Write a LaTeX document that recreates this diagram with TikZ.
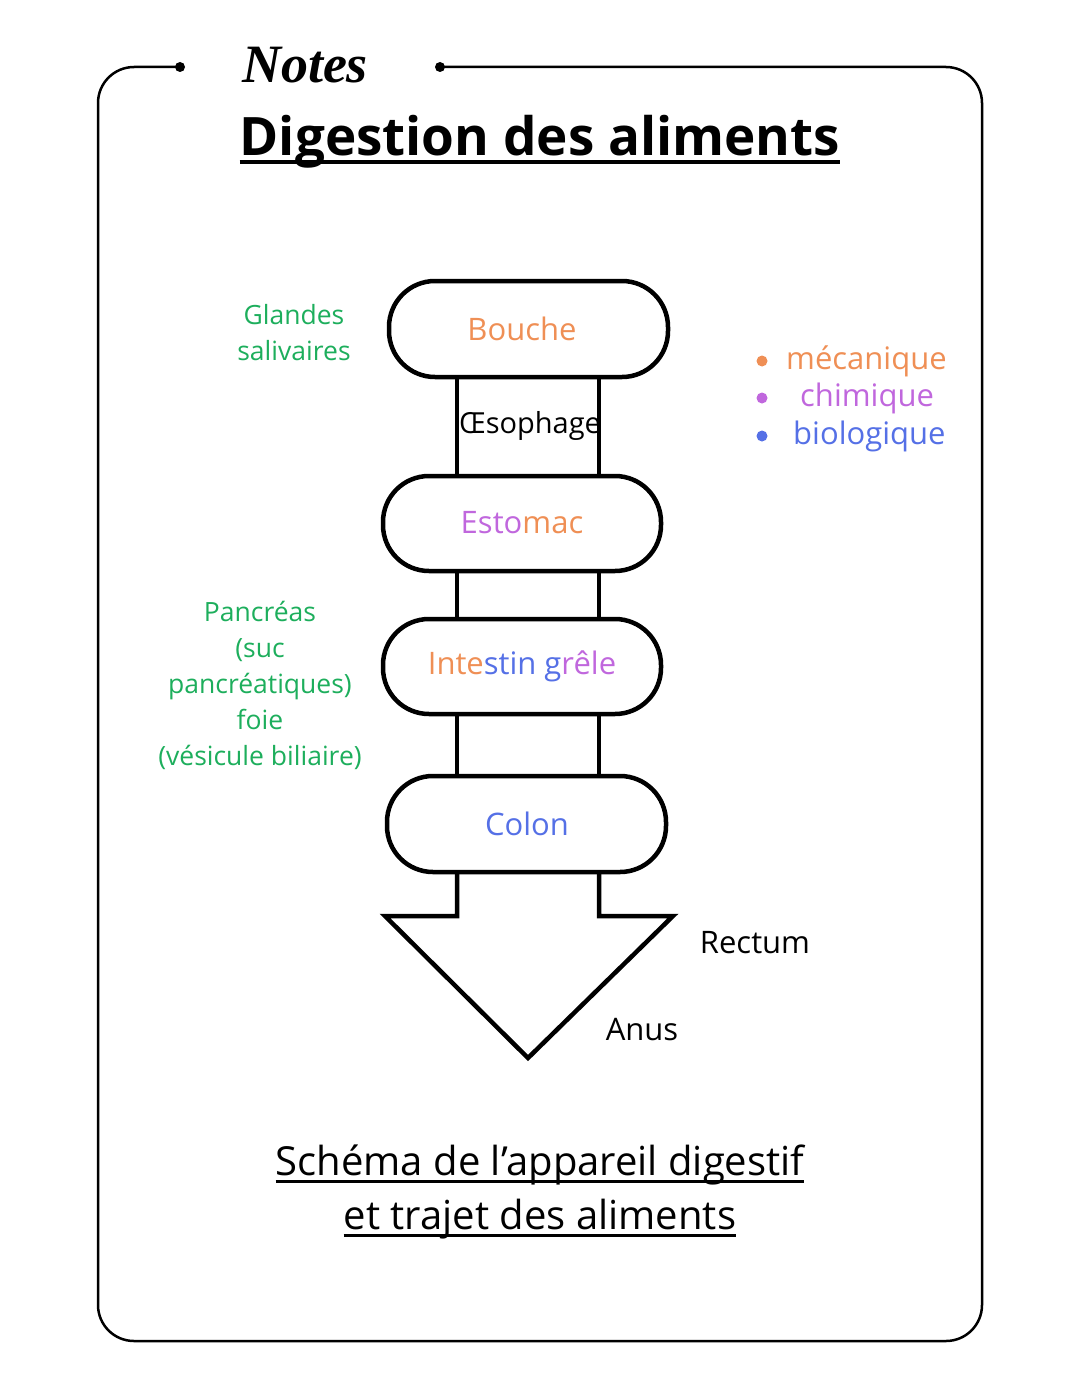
\documentclass[tikz,border=0pt]{standalone}
\usepackage{fontspec}
\setmainfont{Open Sans}
\newfontfamily\notesfont{Liberation Serif}
\definecolor{corange}{HTML}{EF8F55}
\definecolor{cpurple}{HTML}{C067DD}
\definecolor{cblue}{HTML}{5570E6}
\definecolor{cgreen}{HTML}{1DAE5C}
\newcommand{\myul}[2][2.5pt]{\tikz[baseline=(t.base)]{\node[inner sep=0](t){#2};\draw[line width=#1]([yshift=-6pt]t.base west)--([yshift=-6pt]t.base east);}}
\tikzset{
  pill/.style={draw,line width=4.5pt,rounded corners=46pt,inner sep=0},
  wall/.style={line width=4.5pt},
  lbl/.style={font=\fontsize{31}{40}\selectfont,align=center},
  glbl/.style={lbl,text=cgreen,font=\fontsize{26.5}{36}\selectfont},
}
\begin{document}
\begin{tikzpicture}[x=1pt,y=-1pt]
\useasboundingbox (0,0) rectangle (1080,1397);
% frame
\draw[line width=2.5pt,rounded corners=36pt] (180,67) -- (98,67) -- (98,1341) -- (982,1341) -- (982,67) -- (440,67);
\fill (180,67) circle (5pt) (440,67) circle (5pt);
\node (notes) at (305,65) {\notesfont\bfseries\itshape\fontsize{54}{54}\selectfont Notes};
\node (title) at (540,142) {\bfseries\fontsize{53}{56}\selectfont\myul[3.5pt]{Digestion des aliments}};
% pills
\draw[pill] (389,281) rectangle (668,377);
\draw[pill] (383,476) rectangle (661,571);
\draw[pill] (383,619) rectangle (661,714);
\draw[pill] (387,776) rectangle (666,872);
\node[lbl,text=corange] (bouche) at (522,329) {Bouche};
\node[lbl] (estomac) at (522,523) {\textcolor{cpurple}{Esto}\textcolor{corange}{mac}};
\node[lbl] (intestin) at (522,666) {\textcolor{corange}{Inte}\textcolor{cblue}{stin g}\textcolor{cpurple}{rêle}};
\node[lbl,text=cblue] (colon) at (527,824) {Colon};
% tube walls
\draw[wall] (457,377) -- (457,476) (599,377) -- (599,476);
\draw[wall] (457,571) -- (457,619) (599,571) -- (599,619);
\draw[wall] (457,714) -- (457,776) (599,714) -- (599,776);
\draw[wall,line join=miter] (457,872) -- (457,916) -- (385,916) -- (528,1058) -- (673,916) -- (599,916) -- (599,872);
\node[lbl,font=\fontsize{29}{40}\selectfont] (oeso) at (530,426) {Œsophage};
% left labels
\node[glbl] (glandes) at (294,333) {Glandes\\salivaires};
\node[glbl] (pancreas) at (260,685) {Pancréas\\(suc\\pancréatiques)\\foie\\(vésicule biliaire)};
% right list
\fill[corange] (762,361) circle (5.5pt);
\fill[cpurple] (762,398) circle (5.5pt);
\fill[cblue] (762,436) circle (5.5pt);
\node[lbl,anchor=west,text=corange,inner sep=0] (meca) at (786,361) {mécanique};
\node[lbl,anchor=west,text=cpurple,inner sep=0] (chim) at (800,398) {chimique};
\node[lbl,anchor=west,text=cblue,inner sep=0] (bio) at (793,436) {biologique};
\node[lbl] (rectum) at (755,943) {Rectum};
\node[lbl] (anus) at (642,1030) {Anus};
% caption
\node[font=\fontsize{40}{54}\selectfont] (cap1) at (540,1165) {\myul{Schéma de l’appareil digestif\ }};
\node[font=\fontsize{40}{54}\selectfont] (cap2) at (540,1219) {\myul{et trajet des aliments}};
\end{tikzpicture}
\end{document}
